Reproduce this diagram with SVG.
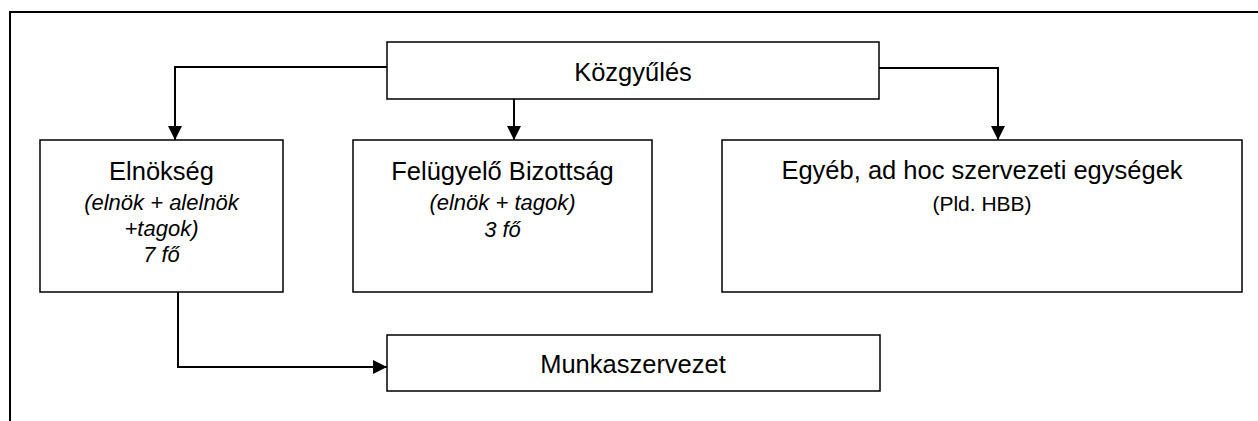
<svg xmlns="http://www.w3.org/2000/svg" width="1258" height="421" viewBox="0 0 1258 421">
<style>
.box{fill:#fff;stroke:#000;stroke-width:1.5}
.frame{fill:none;stroke:#000;stroke-width:2}
.conn{fill:none;stroke:#000;stroke-width:2}
.t{font-family:"Liberation Sans",Arial,sans-serif;font-size:25.5px;fill:#000;text-anchor:middle}
.i{font-family:"Liberation Sans",Arial,sans-serif;font-size:22px;font-style:italic;fill:#000;text-anchor:middle}
.s{font-family:"Liberation Sans",Arial,sans-serif;font-size:21px;fill:#000;text-anchor:middle}
</style>
<defs>
<marker id="arrow" markerUnits="userSpaceOnUse" markerWidth="15" markerHeight="15" refX="14" refY="7" orient="auto">
<path d="M0,0 L14,7 L0,14 z" fill="#000"/>
</marker>
</defs>
<rect width="1258" height="421" fill="#fff"/>
<path class="frame" d="M10,421 V12 H1258"/>
<g id="connectors">
<path class="conn" d="M387,67 H175 V140" marker-end="url(#arrow)"/>
<path class="conn" d="M514,99 V140" marker-end="url(#arrow)"/>
<path class="conn" d="M879,68 H998 V140" marker-end="url(#arrow)"/>
<path class="conn" d="M178,292 V367 H387" marker-end="url(#arrow)"/>
</g>
<g id="kozgyules">
<rect class="box" x="387" y="42" width="492" height="57"/>
<text class="t" x="633" y="81">Közgyűlés</text>
</g>
<g id="elnokseg">
<rect class="box" x="40" y="140" width="243" height="152"/>
<text class="t" x="161.5" y="179.5">Elnökség</text>
<text class="i" x="161.5" y="210">(elnök + alelnök</text>
<text class="i" x="161.5" y="236">+tagok)</text>
<text class="i" x="161.5" y="262">7 fő</text>
</g>
<g id="felugyelo">
<rect class="box" x="353" y="140" width="299" height="152"/>
<text class="t" x="502.5" y="180">Felügyelő Bizottság</text>
<text class="i" x="502.5" y="210">(elnök + tagok)</text>
<text class="i" x="502.5" y="237">3 fő</text>
</g>
<g id="egyeb">
<rect class="box" x="722" y="140" width="520" height="152"/>
<text class="t" x="982" y="179">Egyéb, ad hoc szervezeti egységek</text>
<text class="s" x="982" y="211">(Pld. HBB)</text>
</g>
<g id="munkaszervezet">
<rect class="box" x="387" y="335" width="493" height="56"/>
<text class="t" x="633" y="373">Munkaszervezet</text>
</g>
</svg>
